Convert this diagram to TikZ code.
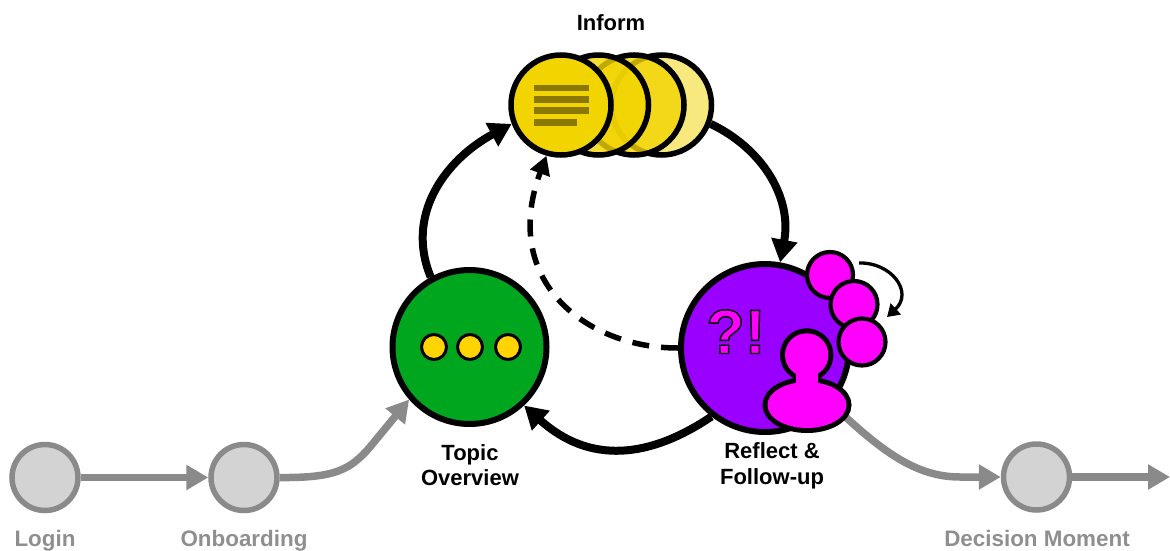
\documentclass[tikz,border=0pt]{standalone}
\usepackage{fontspec}
\setmainfont{Liberation Sans}
\usetikzlibrary{arrows.meta}
\definecolor{greyline}{HTML}{8A8A8A}
\definecolor{greyfill}{HTML}{D3D3D3}
\definecolor{greytext}{HTML}{8F8F8F}
\definecolor{infoyellow}{HTML}{F2D400}
\definecolor{bardark}{HTML}{8B7800}
\definecolor{violet}{HTML}{9900FF}
\definecolor{magentaa}{HTML}{FF00FF}
\definecolor{greenb}{HTML}{00A61E}
\definecolor{dotyellow}{HTML}{FFD400}
\tikzset{
  x=0.75pt,y=-0.75pt,
  px/.style={line width=#1*0.75pt},
  stage/.style={circle,draw=greyline,fill=greyfill,px=5.5,inner sep=0pt,minimum size=66*0.75pt},
  stagelabel/.style={font=\fontsize{16.8pt}{18pt}\selectfont\bfseries,text=greytext,anchor=base},
  blacklabel/.style={font=\fontsize{16.5pt}{19.2pt}\selectfont\bfseries,text=black,align=center},
  greyarrow/.style={draw=greyline,px=7.5,-{Triangle[length=16.5pt,width=18pt]}},
  mainarrow/.style={draw=black,px=8,-{Triangle[length=17pt,width=19pt]}},
  dasharrow/.style={draw=black,px=5.5,dash pattern=on 12.75pt off 9pt,-{Triangle[length=14pt,width=15pt]}},
  smallarrow/.style={draw=black,px=3.3,-{Triangle[length=9pt,width=11pt]}},
  infocircle/.style={circle,draw=black,px=5.5,inner sep=0pt,minimum size=100*0.75pt},
  bar/.style={fill=bardark,draw=none},
  smallpink/.style={circle,draw=black,px=4.2,fill=magentaa,inner sep=0pt},
  dot/.style={circle,draw=black,px=3,fill=dotyellow,inner sep=0pt,minimum size=25*0.75pt},
}
\begin{document}
\begin{tikzpicture}
\useasboundingbox (0,0) rectangle (1170,550);
% grey stages
\node[stage] (login) at (45,477.5) {};
\node[stage] (onb) at (244,477.5) {};
\node[stage] (dec) at (1036.5,477) {};
\coordinate (out) at (1170,477);
% main circles
\node[circle,draw=black,px=6,fill=greenb,inner sep=0pt,minimum size=154*0.75pt] (green) at (469.5,347) {};
\node[circle,draw=black,px=6,fill=violet,inner sep=0pt,minimum size=168*0.75pt] (purple) at (765,348) {};
% grey connectors
\draw[greyarrow] (login) -- (onb);
\draw[greyarrow] (onb.east) .. controls (335,478) and (350,470) .. (370,447) -- (green.221);
\draw[greyarrow] (purple.-40) .. controls (880,450) and (915,477) .. (960,477) -- (dec.west);
\draw[greyarrow] (dec.east) -- (out);
% inform stack
\node[infocircle,fill=infoyellow,fill opacity=.5] (inf4) at (661.5,105) {};
\node[infocircle,fill=infoyellow,fill opacity=.8] (inf3) at (634,105) {};
\node[infocircle,fill=infoyellow,fill opacity=.8] (inf2) at (598.5,105) {};
\node[infocircle,fill=infoyellow] (inf1) at (561,105) {};
\fill[bar] (533.7,84.7) rectangle (588.7,91);
\fill[bar] (533.7,96) rectangle (588.7,102.7);
\fill[bar] (533.7,107.3) rectangle (588.7,114);
\fill[bar] (533.7,118.7) rectangle (577,125.7);
% dots
\node[dot] (d1) at (434,347) {};
\node[dot] (d2) at (470,347) {};
\node[dot] (d3) at (508,347) {};
% pink
\node[smallpink,minimum size=46*0.75pt] (p1) at (830,275) {};
\node[smallpink,minimum size=47*0.75pt] (p2) at (854,304.5) {};
\node[smallpink,minimum size=47*0.75pt] (p3) at (862,342) {};
% person
\draw[black,px=10,fill=magentaa] (806.7,355) circle [radius=21.7];
\draw[black,px=10,fill=magentaa] (807,405) ellipse [x radius=39.5,y radius=23];
\fill[magentaa] (806.7,355) circle [radius=21.7];
\fill[magentaa] (807,405) ellipse [x radius=39.5,y radius=23];
\fill[magentaa] (796,365) rectangle (818,385);
% ?!
\node[font=\fontsize{47pt}{47pt}\selectfont\bfseries,anchor=base,inner sep=0pt] (qm) at (736,353.5) {\special{pdf:code q 2 Tr 1.1 w 0 0 0 RG 1 0 1 rg}?!\special{pdf:code Q}};
% black arrows
\draw[mainarrow] (green.119) .. controls (405,215) and (445,160) .. (inf1.201);
\draw[mainarrow] (inf4.-21) .. controls (765,150) and (792,200) .. (purple.80);
\draw[mainarrow] (purple.232) .. controls (650,458) and (590,465) .. (green.-47);
\draw[dasharrow] (purple.west) .. controls (585,348) and (500,280) .. (inf1.254);
\coordinate (loopa) at (859,263);
\coordinate (loopb) at (887,317);
\draw[smallarrow] (loopa) .. controls (891,262) and (914,292) .. (loopb);
% labels
\node[blacklabel,anchor=base] (tinf) at (611,30) {Inform};
\node[blacklabel] (ttop) at (470,465) {Topic\\Overview};
\node[blacklabel] (tref) at (772,466) {Reflect \&\\Follow-up};
\node[stagelabel] (tlog) at (45,546) {Login};
\node[stagelabel] (tonb) at (244,546) {Onboarding};
\node[stagelabel] (tdec) at (1037,546) {Decision Moment};
\end{tikzpicture}
\end{document}
